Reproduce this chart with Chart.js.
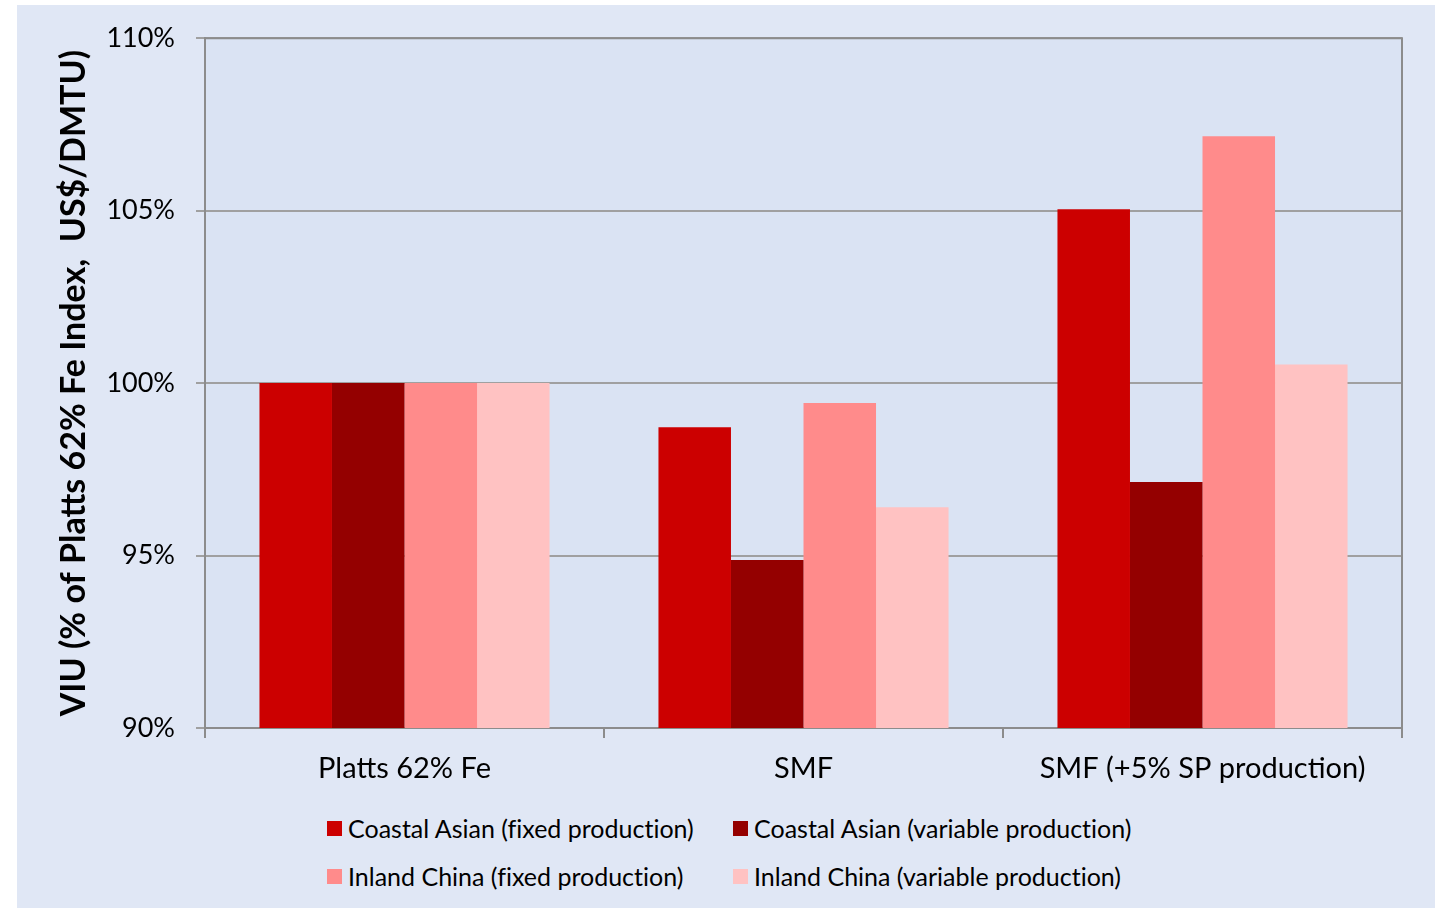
<!DOCTYPE html>
<html>
<head>
<meta charset="utf-8">
<script src="https://cdn.jsdelivr.net/npm/chart.js@4"></script>
<style>
  html, body { margin: 0; padding: 0; background: #ffffff; }
  #wrap { position: absolute; left: 17px; top: 5px; width: 1418px; height: 903px; background: #e0e7f5; }
  #cv { position: absolute; left: 0; top: -4px; }
  #legend { position: absolute; left: 310px; top: 799px; display: grid; grid-template-columns: 406px auto; grid-auto-rows: 48px; font-family: Lato, sans-serif; font-size: 25px; color: #000; font-variant-ligatures: none; }
  .item { display: flex; align-items: center; }
  .box { width: 15px; height: 15px; margin-right: 6px; }
</style>
</head>
<body>
<div id="wrap">
  <canvas id="cv" width="1418" height="800" style="width:1418px;height:800px"></canvas>
  <div id="legend"></div>
</div>
<script>
const categories = ["Platts 62% Fe", "SMF", "SMF (+5% SP production)"];
const seriesNames = [
  "Coastal Asian (fixed production)",
  "Coastal Asian (variable production)",
  "Inland China (fixed production)",
  "Inland China (variable production)"
];
const coastalFixed = [100, 98.72, 105.04];
const coastalVariable = [100, 94.87, 97.13];
const inlandFixed = [100, 99.42, 107.16];
const inlandVariable = [100, 96.40, 100.54];
const seriesColors = ["#cc0000", "#940000", "#ff8b8b", "#ffc2c2"];
const yTicks = [90, 95, 100, 105, 110];
const yTitle = "VIU (% of Platts 62% Fe Index,  US$/DMTU)";

const seriesValues = [coastalFixed, coastalVariable, inlandFixed, inlandVariable];

const plotFrame = {
  id: 'plotFrame',
  beforeDraw(chart) {
    const a = chart.chartArea, ctx = chart.ctx;
    ctx.save();
    ctx.fillStyle = '#dae3f3';
    ctx.fillRect(a.left, a.top, a.right - a.left, a.bottom - a.top);
    ctx.restore();
  },
  afterDraw(chart) {
    const a = chart.chartArea, ctx = chart.ctx;
    ctx.save();
    ctx.strokeStyle = '#8c8c8c';
    ctx.lineWidth = 2;
    ctx.beginPath();
    ctx.moveTo(a.left, a.top);
    ctx.lineTo(a.right, a.top);
    ctx.lineTo(a.right, a.bottom);
    ctx.stroke();
    ctx.restore();
  }
};

new Chart(document.getElementById('cv'), {
  type: 'bar',
  data: {
    labels: categories,
    datasets: seriesNames.map((n, i) => ({
      label: n,
      data: seriesValues[i],
      backgroundColor: seriesColors[i],
      borderWidth: 0,
      barPercentage: 1,
      categoryPercentage: 0.727
    }))
  },
  options: {
    responsive: false,
    animation: false,
    devicePixelRatio: 1,
    layout: { padding: { top: 29, right: 33, left: 0, bottom: 0 } },
    plugins: { legend: { display: false }, tooltip: { enabled: false } },
    scales: {
      x: {
        afterFit: s => { s.height = 73; },
        grid: { offset: true, drawOnChartArea: false, drawTicks: true, tickLength: 10, color: '#8c8c8c', lineWidth: 2 },
        border: { color: '#8c8c8c', width: 2 },
        ticks: { color: '#000', padding: 13, font: { family: 'Lato', size: 29 } }
      },
      y: {
        min: 90, max: 110,
        afterFit: s => { s.width = 188; },
        afterBuildTicks: s => { s.ticks = yTicks.map(v => ({ value: v })); },
        grid: { color: '#a0a0a0', lineWidth: 2, tickLength: 9, drawTicks: true },
        border: { color: '#8c8c8c', width: 2 },
        ticks: { color: '#000', padding: 21, font: { family: 'Lato', size: 27 }, callback: v => v + '%' },
        title: { display: true, text: yTitle, color: '#000', padding: { top: 37, bottom: 0 }, font: { family: 'Lato', size: 34, weight: 'bold' } }
      }
    }
  },
  plugins: [plotFrame]
});

const lg = document.getElementById('legend');
seriesNames.forEach((n, i) => {
  const it = document.createElement('div');
  it.className = 'item';
  const b = document.createElement('span');
  b.className = 'box';
  b.style.background = seriesColors[i];
  const t = document.createElement('span');
  t.textContent = n;
  it.appendChild(b); it.appendChild(t);
  lg.appendChild(it);
});
</script>
</body>
</html>
